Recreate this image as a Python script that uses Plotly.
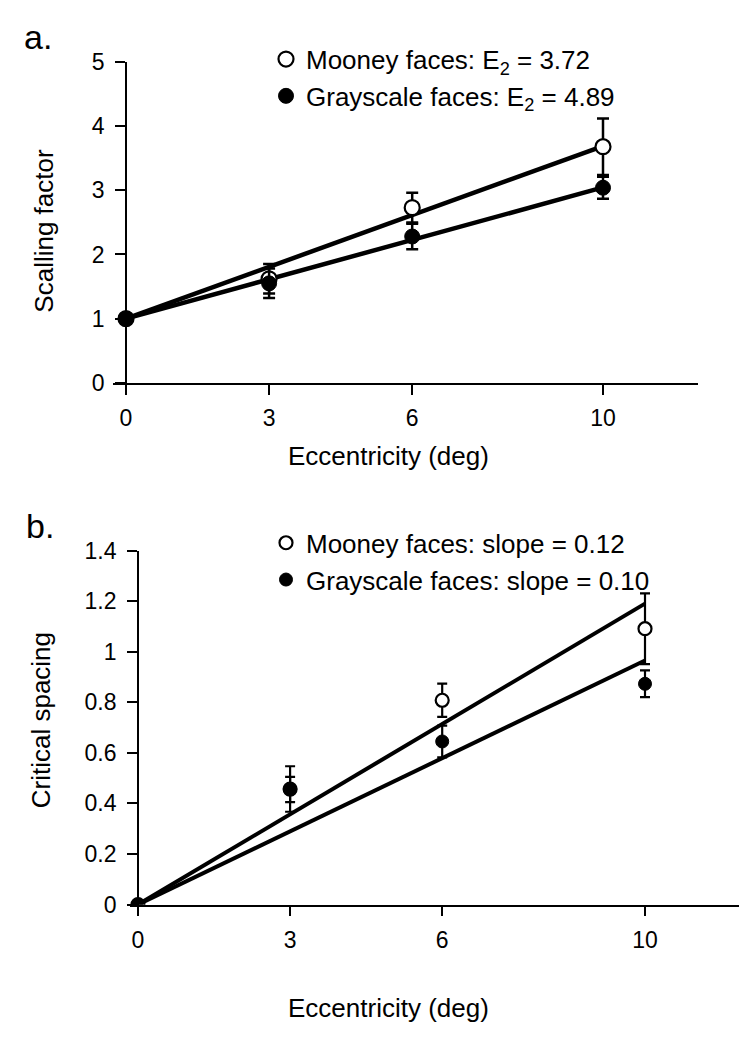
import plotly.graph_objects as go

W, H = 747, 1050
FONT = "Liberation Sans, Arial, Helvetica, sans-serif"

# ---------------- data ----------------
ecc = [0, 3, 6, 10]
fit_x = [0, 10]

# panel a: scaling factor
a_mooney = [1.0, 1.62, 2.73, 3.68]
a_mooney_err = [0.0, 0.23, 0.23, 0.44]
a_gray = [1.0, 1.55, 2.28, 3.04]
a_gray_err = [0.0, 0.23, 0.20, 0.17]
a_fit_mooney = [1.0, 3.69]
a_fit_gray = [1.0, 3.045]
a_labels = ["Mooney faces: E<sub>2</sub> = 3.72", "Grayscale faces: E<sub>2</sub> = 4.89"]

# panel b: critical spacing
b_mooney = [0.0, 0.457, 0.808, 1.091]
b_mooney_err = [0.0, 0.09, 0.066, 0.14]
b_gray = [0.0, 0.455, 0.645, 0.873]
b_gray_err = [0.0, 0.05, 0.063, 0.053]
b_fit_mooney = [0.0, 1.19]
b_fit_gray = [0.0, 0.965]
b_labels = ["Mooney faces: slope = 0.12", "Grayscale faces: slope = 0.10"]

x_ticks = [0, 3, 6, 10]
a_yticks = [0, 1, 2, 3, 4, 5]
b_yticks = [0, 0.2, 0.4, 0.6, 0.8, 1.0, 1.2, 1.4]
b_yticktext = ["0", "0.2", "0.4", "0.6", "0.8", "1", "1.2", "1.4"]

fig = go.Figure()


def add_panel(xa, ya, leg, mo, mo_err, gr, gr_err, fm, fg, labels, lw, msize, ew, ecap):
    for fy in (fm, fg):
        fig.add_trace(go.Scatter(x=fit_x, y=fy, mode="lines", xaxis=xa, yaxis=ya,
                                 line=dict(color="black", width=lw), showlegend=False,
                                 hoverinfo="skip"))
    fig.add_trace(go.Scatter(
        x=ecc, y=mo, mode="markers", xaxis=xa, yaxis=ya, name=labels[0], legend=leg,
        legendgroup=leg + "m",
        marker=dict(symbol="circle", size=msize, color="white", line=dict(color="black", width=2.2)),
        error_y=dict(type="data", array=mo_err, visible=True, color="black", thickness=ew, width=ecap),
    ))
    fig.add_trace(go.Scatter(
        x=ecc, y=gr, mode="markers", xaxis=xa, yaxis=ya, name=labels[1], legend=leg,
        legendgroup=leg + "g",
        marker=dict(symbol="circle", size=msize, color="black", line=dict(color="black", width=1)),
        error_y=dict(type="data", array=gr_err, visible=True, color="black", thickness=ew, width=ecap),
    ))


add_panel("x", "y", "legend", a_mooney, a_mooney_err, a_gray, a_gray_err,
          a_fit_mooney, a_fit_gray, a_labels, 4.5, 15, 2.5, 6)
add_panel("x2", "y2", "legend2", b_mooney, b_mooney_err, b_gray, b_gray_err,
          b_fit_mooney, b_fit_gray, b_labels, 4, 13, 2.2, 5)

tickfont = dict(family=FONT, size=23, color="black")
axis_common = dict(showgrid=False, zeroline=False, showline=True, linecolor="black",
                   linewidth=1.7, ticks="outside", ticklen=10, tickwidth=1.7,
                   tickcolor="black", tickfont=tickfont)

# panel a geometry (px)
a_x0, a_unit = 118, 47.7
a_left, a_right = 105, 690
a_top, a_bottom = 42, 371
# panel b geometry (px)
b_x0, b_unit = 130, 50.7
b_left, b_right = 122, 747
b_top, b_bottom = 543, 906

legfont = dict(family=FONT, size=26, color="black")

fig.update_layout(
    width=W, height=H, margin=dict(l=0, r=0, t=0, b=0),
    paper_bgcolor="white", plot_bgcolor="white",
    font=dict(family=FONT, color="black"),
    xaxis=dict(domain=[a_left / W, a_right / W],
               range=[(a_left - a_x0) / a_unit, (a_right - a_x0) / a_unit],
               tickvals=x_ticks, anchor="y", ticklabelstandoff=4, **axis_common),
    yaxis=dict(domain=[1 - a_bottom / H, 1 - a_top / H], range=[0, 5],
               tickvals=a_yticks, anchor="free", position=a_x0 / W,
               ticklabelstandoff=6, **axis_common),
    xaxis2=dict(domain=[b_left / W, b_right / W],
                range=[(b_left - b_x0) / b_unit, (b_right - b_x0) / b_unit],
                tickvals=x_ticks, anchor="y2", ticklabelstandoff=4, **axis_common),
    yaxis2=dict(domain=[1 - b_bottom / H, 1 - b_top / H], range=[0, 1.4],
                tickvals=b_yticks, ticktext=b_yticktext, anchor="free", position=b_x0 / W,
                ticklabelstandoff=6, **axis_common),
    legend=dict(x=258 / W, y=1 - 15 / H, xanchor="left", yanchor="top",
                font=legfont, bgcolor="rgba(0,0,0,0)", tracegroupgap=0, itemwidth=30),
    legend2=dict(x=258 / W, y=1 - 511 / H, xanchor="left", yanchor="top",
                 font=legfont, bgcolor="rgba(0,0,0,0)", tracegroupgap=0, itemwidth=30),
)

annots = [
    dict(text="a.", x=30 / W, y=1 - 16 / H, font=dict(size=34)),
    dict(text="b.", x=32 / W, y=1 - 518 / H, font=dict(size=34)),
    dict(text="Eccentricity (deg)", x=380 / W, y=1 - 446 / H, font=dict(size=26)),
    dict(text="Eccentricity (deg)", x=380 / W, y=1 - 1012 / H, font=dict(size=26)),
    dict(text="Scalling factor", x=36 / W, y=1 - 215 / H, textangle=-90, font=dict(size=26)),
    dict(text="Critical spacing", x=33 / W, y=1 - 717 / H, textangle=-90, font=dict(size=26)),
]
for a in annots:
    a.update(xref="paper", yref="paper", showarrow=False, xanchor="center", yanchor="middle")
    a["font"].update(family=FONT, color="black")
    fig.add_annotation(**a)

fig.write_html("out.html")
